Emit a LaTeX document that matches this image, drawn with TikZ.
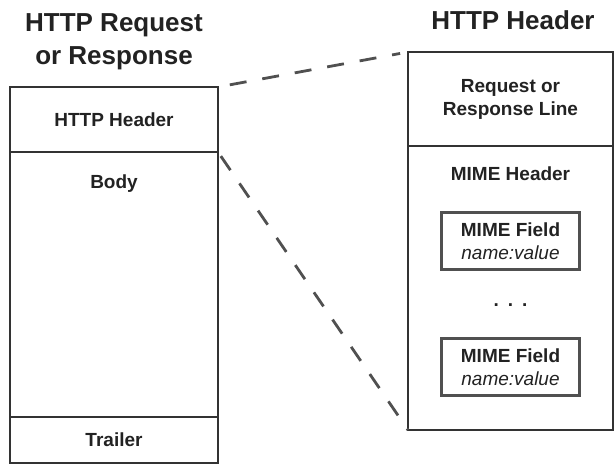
\documentclass[tikz,border=0pt]{standalone}
\usepackage{fontspec}
\setmainfont{Liberation Sans}
\usepackage{tikz}
\usetikzlibrary{positioning}
\definecolor{textgray}{HTML}{222222}
\definecolor{boxgray}{HTML}{333333}
\definecolor{fieldgray}{HTML}{505050}
\definecolor{linegray}{HTML}{505050}
\newcommand{\titlefont}{\bfseries\fontsize{26}{33}\selectfont}
\newcommand{\cellfont}{\bfseries\fontsize{19}{23}\selectfont}

\begin{document}
\begin{tikzpicture}[x=1pt,y=-1pt]
    \tikzstyle{every node}+=[inner sep=0pt, text=textgray]
    \tikzstyle{cell}=[draw=boxgray, line width=2.7pt, outer sep=0pt]
    \tikzstyle{field}=[draw=fieldgray, line width=2.7pt, outer sep=0pt, minimum width=138pt, minimum height=57pt, align=center, font=\cellfont]
    \tikzstyle{link}=[draw=linegray, line width=2.8pt, dash pattern=on 17pt off 16pt]
    \useasboundingbox (0,0) rectangle (615,466);
    % left column: request or response
    \node [font=\titlefont, align=center] (ltitle) at (114,42) {HTTP Request\\or Response};
    \node [cell, anchor=north west, minimum width=208pt, minimum height=65pt, font=\cellfont] (lhead) at (10,87) {HTTP Header};
    \node [cell, below=0pt of lhead, minimum width=208pt, minimum height=265pt] (lbody) {};
    \node [cell, below=0pt of lbody, minimum width=208pt, minimum height=46pt, font=\cellfont] (ltrail) {Trailer};
    \node [font=\cellfont] (bodytxt) at ([yshift=-32pt]lbody.north) {Body};
    % right column: the header opened up
    \node [font=\titlefont] (rtitle) at (513,20) {HTTP Header};
    \node [cell, anchor=north west, minimum width=205pt, minimum height=94pt, align=center, font=\cellfont] (rline) at (408,52) {Request or\\Response Line};
    \node [cell, below=0pt of rline, minimum width=205pt, minimum height=284pt] (rbody) {};
    \node [font=\cellfont] (mimetxt) at ([yshift=-28pt]rbody.north) {MIME Header};
    \node [field] (field1) at ([yshift=-95pt]rbody.north) {MIME Field\\{\mdseries\itshape name:value}};
    \node [font=\cellfont] (dots) at ([yshift=-159pt]rbody.north) {.\hskip9pt.\hskip9pt.};
    \node [field] (field2) at ([yshift=-221pt]rbody.north) {MIME Field\\{\mdseries\itshape name:value}};
    % dashed zoom lines
    \draw [link, shorten <=12pt, shorten >=8pt] (lhead.north east) -- (rline.north west);
    \draw [link, shorten <=5pt] (lhead.south east) -- (rbody.south west);
\end{tikzpicture}
\end{document}
